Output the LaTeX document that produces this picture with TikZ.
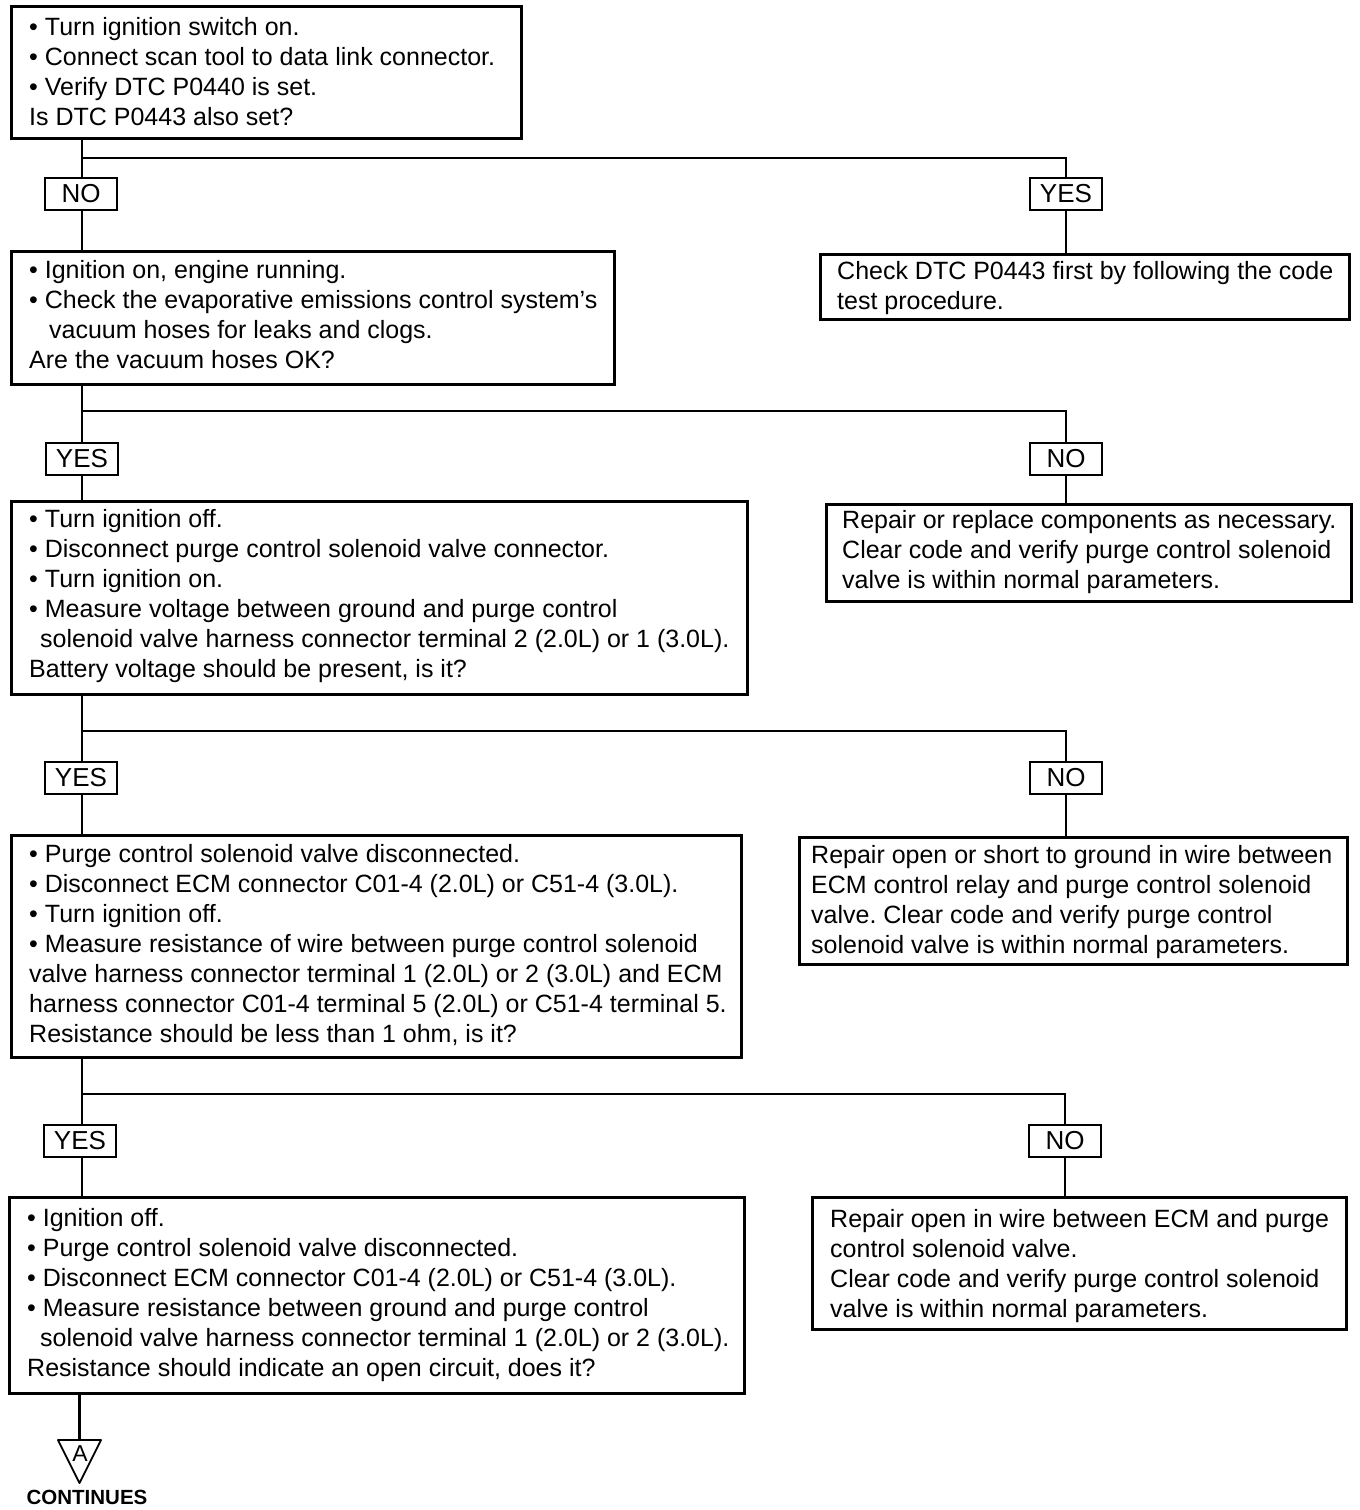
\documentclass[tikz,border=0pt]{standalone}
\usepackage{fontspec}
\setmainfont{Liberation Sans}
\frenchspacing
\begin{document}
\begin{tikzpicture}[x=1pt,y=-1pt,
  box/.style={draw,line width=2.6pt,inner sep=0pt,anchor=north west},
  lbl/.style={draw,line width=2.2pt,inner sep=0pt,minimum width=72pt,minimum height=32pt,font={\fontsize{26}{28}\selectfont}},
  txt/.style={inner sep=0pt,anchor=north west,align=left,font={\fontsize{25}{30}\selectfont}},
  conn/.style={line width=2.4pt}]
\useasboundingbox (0,0) rectangle (1360,1510);
% boxes
\node[box,minimum width=510pt,minimum height=132pt] (b1) at (10,5) {};
\node[box,minimum width=603pt,minimum height=133pt] (b2) at (10,250) {};
\node[box,minimum width=529pt,minimum height=65pt] (r1) at (819,253) {};
\node[box,minimum width=736pt,minimum height=193pt] (b3) at (10,500) {};
\node[box,minimum width=525pt,minimum height=97pt] (r2) at (825,503) {};
\node[box,minimum width=730pt,minimum height=222pt] (b4) at (10,834) {};
\node[box,minimum width=548pt,minimum height=127pt] (r3) at (798,836) {};
\node[box,minimum width=735pt,minimum height=196pt] (b5) at (8,1196) {};
\node[box,minimum width=534pt,minimum height=132pt] (r4) at (811,1196) {};
% texts
\node[txt] (t1) at (29,14) {\strut• Turn ignition switch on.\\• Connect scan tool to data link connector.\\• Verify DTC P0440 is set.\\Is DTC P0443 also set?};
\node[txt] (t2) at (29,257) {\strut• Ignition on, engine running.\\• Check the evaporative emissions control system's\\\hspace*{20pt}vacuum hoses for leaks and clogs.\\Are the vacuum hoses OK?};
\node[txt] (tr1) at (837,258) {\strut Check DTC P0443 first by following the code\\test procedure.};
\node[txt] (t3) at (29,506) {\strut• Turn ignition off.\\• Disconnect purge control solenoid valve connector.\\• Turn ignition on.\\• Measure voltage between ground and purge control\\\hspace*{11pt}solenoid valve harness connector terminal 2 (2.0L) or 1 (3.0L).\\Battery voltage should be present, is it?};
\node[txt] (tr2) at (842,507) {\strut Repair or replace components as necessary.\\Clear code and verify purge control solenoid\\valve is within normal parameters.};
\node[txt] (t4) at (29,841) {\strut• Purge control solenoid valve disconnected.\\• Disconnect ECM connector C01-4 (2.0L) or C51-4 (3.0L).\\• Turn ignition off.\\• Measure resistance of wire between purge control solenoid\\valve harness connector terminal 1 (2.0L) or 2 (3.0L) and ECM\\harness connector C01-4 terminal 5 (2.0L) or C51-4 terminal 5.\\Resistance should be less than 1 ohm, is it?};
\node[txt] (tr3) at (811,842) {\strut Repair open or short to ground in wire between\\ECM control relay and purge control solenoid\\valve. Clear code and verify purge control\\solenoid valve is within normal parameters.};
\node[txt] (t5) at (27,1205) {\strut• Ignition off.\\• Purge control solenoid valve disconnected.\\• Disconnect ECM connector C01-4 (2.0L) or C51-4 (3.0L).\\• Measure resistance between ground and purge control\\\hspace*{13pt}solenoid valve harness connector terminal 1 (2.0L) or 2 (3.0L).\\Resistance should indicate an open circuit, does it?};
\node[txt] (tr4) at (830,1206) {\strut Repair open in wire between ECM and purge\\control solenoid valve.\\Clear code and verify purge control solenoid\\valve is within normal parameters.};
% labels
\node[lbl] (n1) at (81,194) {NO};
\node[lbl] (y1) at (1066,194) {YES};
\node[lbl] (y2) at (82,459) {YES};
\node[lbl] (n2) at (1066,459) {NO};
\node[lbl] (y3) at (81,778) {YES};
\node[lbl] (n3) at (1066,778) {NO};
\node[lbl] (y4) at (80,1141) {YES};
\node[lbl] (n4) at (1065,1141) {NO};
% junctions
\coordinate (j1) at (82,158);
\coordinate (j2) at (82,411);
\coordinate (j3) at (82,731);
\coordinate (j4) at (82,1094);
% connectors
\draw[conn] (b1.south -| j1) -- (n1.north -| j1);
\draw[conn] (j1) -| (y1.north);
\draw[conn] (n1.south -| j1) -- (b2.north -| j1);
\draw[conn] (y1.south) -- (r1.north -| y1.south);
\draw[conn] (b2.south -| j2) -- (y2.north -| j2);
\draw[conn] (j2) -| (n2.north);
\draw[conn] (y2.south -| j2) -- (b3.north -| j2);
\draw[conn] (n2.south) -- (r2.north -| n2.south);
\draw[conn] (b3.south -| j3) -- (y3.north -| j3);
\draw[conn] (j3) -| (n3.north);
\draw[conn] (y3.south -| j3) -- (b4.north -| j3);
\draw[conn] (n3.south) -- (r3.north -| n3.south);
\draw[conn] (b4.south -| j4) -- (y4.north -| j4);
\draw[conn] (j4) -| (n4.north);
\draw[conn] (y4.south -| j4) -- (b5.north -| j4);
\draw[conn] (n4.south) -- (r4.north -| n4.south);
% continuation triangle
\coordinate (ta) at (58,1440);
\coordinate (tb) at (101,1440);
\coordinate (tc) at (79.5,1483);
\draw[line width=1.8pt,line join=round] (ta) -- (tb) -- (tc) -- cycle;
\node[inner sep=0pt,font={\fontsize{23}{24}\selectfont}] (A) at (80,1454) {A};
\draw[conn] (b5.south -| tc) -- (tc |- ta);
\node[inner sep=0pt,font={\fontsize{20.5}{22}\bfseries\selectfont}] (cont) at (87,1497) {CONTINUES};
\end{tikzpicture}
\end{document}
